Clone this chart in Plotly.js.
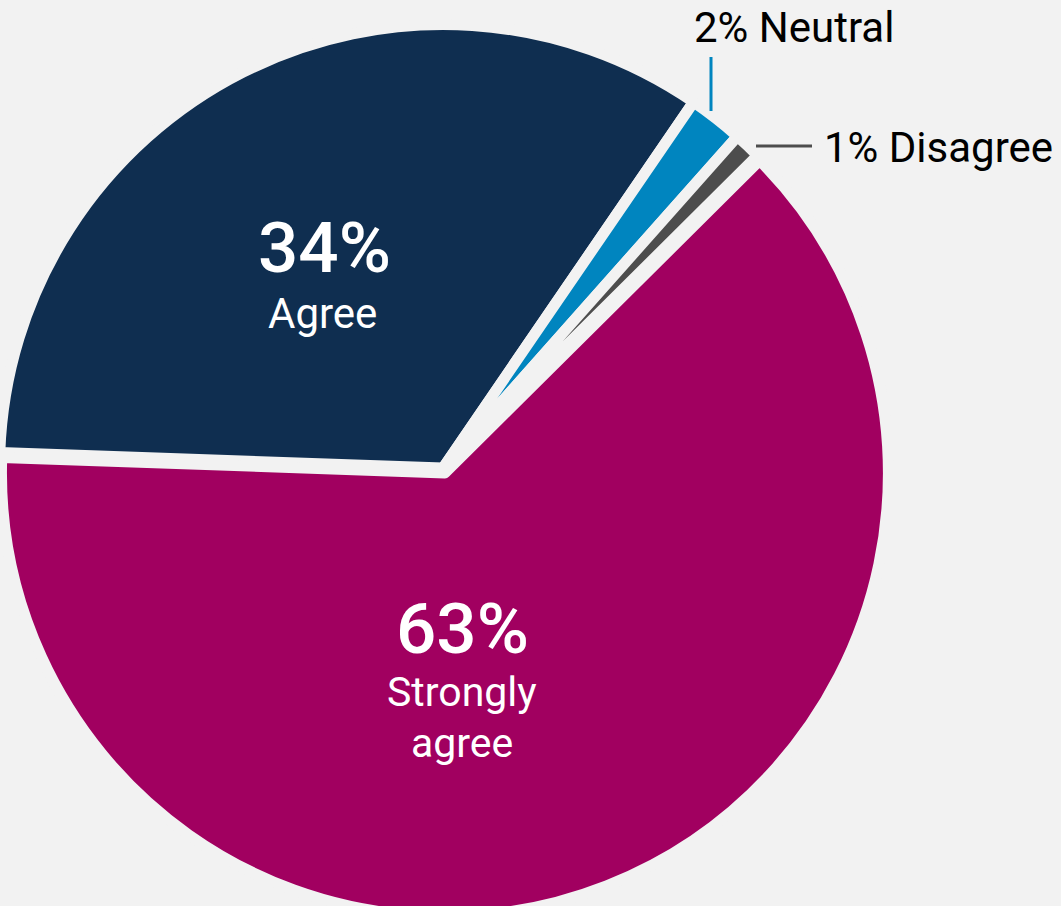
<!DOCTYPE html>
<html><head><meta charset="utf-8">
<script src="https://cdn.plot.ly/plotly-3.0.1.min.js"></script>
<style>html,body{margin:0;padding:0;background:#f2f2f2;overflow:hidden;}#chart{width:1081px;height:930px;margin-left:-20px;}</style>
</head><body><div id="chart"></div>
<script>
const categories = ["Agree", "Neutral", "Disagree", "Strongly agree"];
const values = [34, 2, 1, 63];
const sliceColors = ["#0f2e50", "#0085bf", "#4d4d4d", "#a10060"];
const insideWords = [["Agree"], null, null, ["Strongly", "agree"]];

const OX = 20;
const W = 1081, H = 930;
const px = x => (x + OX) / W;
const py = y => 1 - y / H;
const FONT = "Roboto, 'DejaVu Sans', sans-serif";

const annotations = [];
function ann(text, x, y, size, color, xanchor, weight) {
  annotations.push({text: text, x: px(x), y: py(y), xref: "paper", yref: "paper",
    xanchor: xanchor || "center", yanchor: "middle", showarrow: false, borderpad: 0,
    font: {family: FONT, size: size, color: color, weight: weight || 400}});
}
// Agree (inside)
ann(values[0] + "%", 324, 248, 71, "#ffffff", "center", 500);
ann(insideWords[0][0], 322, 313, 42, "#ffffff");
// Strongly agree (inside)
ann(values[3] + "%", 462, 628, 71, "#ffffff", "center", 500);
ann(insideWords[3][0], 462, 692, 41, "#ffffff");
ann(insideWords[3][1], 462, 743, 41, "#ffffff");
// Outside labels
ann(values[1] + "% " + categories[1], 693, 27, 42, "#000000", "left");
ann(values[2] + "% " + categories[2], 823, 147, 42, "#000000", "left");

const shapes = [
  {type: "line", xref: "paper", yref: "paper", x0: px(711), x1: px(711), y0: py(57), y1: py(111),
   line: {color: sliceColors[1], width: 3}},
  {type: "line", xref: "paper", yref: "paper", x0: px(756), x1: px(812), y0: py(146), y1: py(146),
   line: {color: sliceColors[2], width: 3}}
];

const trace = {
  type: "pie",
  labels: categories,
  values: values,
  sort: false,
  direction: "clockwise",
  rotation: -88,
  pull: [0, 0, 0, 0.012],
  marker: {colors: sliceColors, line: {color: "#f2f2f2", width: 11}},
  textinfo: "none",
  hoverinfo: "none",
  showlegend: false,
  domain: {x: [14.2 / W, 911.8 / W], y: [13.2 / H, 910.8 / H]}
};

Plotly.newPlot("chart", [trace], {
  width: W, height: H,
  margin: {l: 0, r: 0, t: 0, b: 0},
  paper_bgcolor: "#f2f2f2",
  plot_bgcolor: "#f2f2f2",
  showlegend: false,
  annotations: annotations,
  shapes: shapes
}, {displayModeBar: false, staticPlot: true});
</script>
</body></html>
